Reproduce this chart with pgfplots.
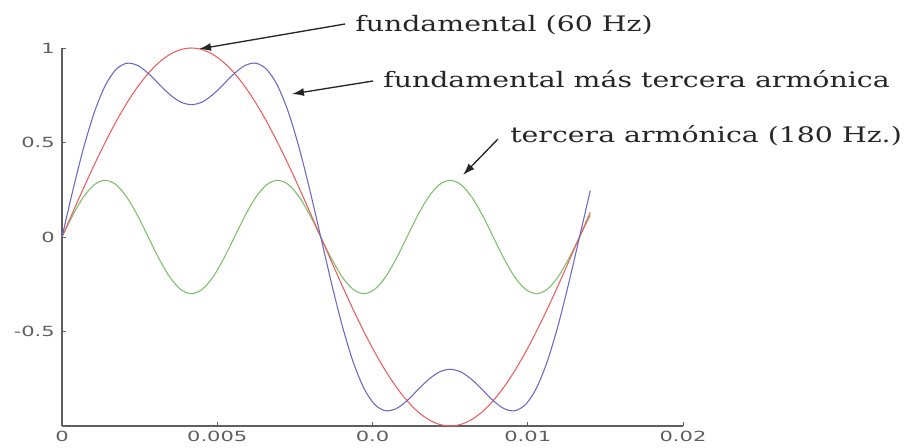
\documentclass[border=0pt]{standalone}
\usepackage{pgfplots}
\pgfplotsset{compat=1.18}
\usepackage{pgfplotstable}
\usetikzlibrary{arrows.meta}
\usepackage{fontspec}
\setmainfont{DejaVu Serif}
\newfontfamily\annfont[FakeStretch=1.33]{DejaVu Serif}
\newfontfamily\tickfont[FakeStretch=1.5]{DejaVu Sans}

\definecolor{cfund}{RGB}{235,95,95}
\definecolor{csum}{RGB}{105,105,195}
\definecolor{cthird}{RGB}{125,190,105}
\definecolor{caxis}{RGB}{95,95,95}

% t (s), fundamental, tercera armonica, suma
\pgfplotstableread{
t        f        h        s
0.000000  0.0000   0.0000   0.0000
0.000347  0.1305   0.1148   0.2453
0.000694  0.2588   0.2121   0.4709
0.001042  0.3827   0.2772   0.6599
0.001389  0.5000   0.3000   0.8000
0.001736  0.6088   0.2772   0.8860
0.002083  0.7071   0.2121   0.9192
0.002431  0.7934   0.1148   0.9082
0.002778  0.8660   0.0000   0.8660
0.003125  0.9239  -0.1148   0.8091
0.003472  0.9659  -0.2121   0.7538
0.003819  0.9914  -0.2772   0.7142
0.004167  1.0000  -0.3000   0.7000
0.004514  0.9914  -0.2772   0.7142
0.004861  0.9659  -0.2121   0.7538
0.005208  0.9239  -0.1148   0.8091
0.005556  0.8660   0.0000   0.8660
0.005903  0.7934   0.1148   0.9082
0.006250  0.7071   0.2121   0.9192
0.006597  0.6088   0.2772   0.8860
0.006944  0.5000   0.3000   0.8000
0.007292  0.3827   0.2772   0.6599
0.007639  0.2588   0.2121   0.4709
0.007986  0.1305   0.1148   0.2453
0.008333  0.0000   0.0000   0.0000
0.008681 -0.1305  -0.1148  -0.2453
0.009028 -0.2588  -0.2121  -0.4709
0.009375 -0.3827  -0.2772  -0.6599
0.009722 -0.5000  -0.3000  -0.8000
0.010069 -0.6088  -0.2772  -0.8860
0.010417 -0.7071  -0.2121  -0.9192
0.010764 -0.7934  -0.1148  -0.9082
0.011111 -0.8660   0.0000  -0.8660
0.011458 -0.9239   0.1148  -0.8091
0.011806 -0.9659   0.2121  -0.7538
0.012153 -0.9914   0.2772  -0.7142
0.012500 -1.0000   0.3000  -0.7000
0.012847 -0.9914   0.2772  -0.7142
0.013194 -0.9659   0.2121  -0.7538
0.013542 -0.9239   0.1148  -0.8091
0.013889 -0.8660   0.0000  -0.8660
0.014236 -0.7934  -0.1148  -0.9082
0.014583 -0.7071  -0.2121  -0.9192
0.014931 -0.6088  -0.2772  -0.8860
0.015278 -0.5000  -0.3000  -0.8000
0.015625 -0.3827  -0.2772  -0.6599
0.015972 -0.2588  -0.2121  -0.4709
0.016319 -0.1305  -0.1148  -0.2453
0.016667  0.0000   0.0000   0.0000
0.017014  0.1305   0.1148   0.2453
}\ondas

\begin{document}
\begin{tikzpicture}[x=0.75pt,y=0.75pt]
\useasboundingbox (0,0) rectangle (912,447);
\begin{axis}[
    at={(46.5pt,15.75pt)}, anchor=south west,
    scale only axis, width=465.75pt, height=283.5pt,
    xmin=0, xmax=0.02, ymin=-1, ymax=1,
    axis lines=left,
    axis line style={-, caxis, line width=0.9pt},
    every outer x axis line/.append style={-},
    every outer y axis line/.append style={-},
    scaled x ticks=false, scaled y ticks=false,
    xtick={0,0.005,0.01,0.015,0.02},
    xticklabels={0,0.005,0.0,0.01,0.02},
    ytick={-0.5,0,0.5,1},
    yticklabels={-0.5,0,0.5,1},
    tick align=inside,
    major tick length=3pt,
    tick style={caxis, line width=0.6pt},
    ticklabel style={font=\tickfont\fontsize{10.5}{11}\selectfont, text=caxis, inner sep=0pt},
    xticklabel style={anchor=north, yshift=-4pt, text depth=0pt},
    yticklabel style={anchor=east, xshift=-5.25pt},
    clip=false,
]
\addplot[cthird, line width=0.8pt, smooth] table[x=t, y=h] {\ondas};
\addplot[cfund, line width=0.8pt, smooth] table[x=t, y=f] {\ondas};
\addplot[csum, line width=0.8pt, smooth] table[x=t, y=s] {\ondas};
\end{axis}

% anotaciones
\begin{scope}[font=\annfont\fontsize{16}{18}\selectfont, text=black!85]
\node[anchor=base west, inner sep=0pt] at (355,415) {fundamental (60 Hz)};
\node[anchor=base west, inner sep=0pt] at (383,359) {fundamental más tercera armónica};
\node[anchor=base west, inner sep=0pt] at (510,305) {tercera armónica (180 Hz.)};
\end{scope}
\draw[-{Latex[length=9pt,width=6pt]}, line width=1pt, black!85] (345,423) -- (199,398);
\draw[-{Latex[length=9pt,width=6pt]}, line width=1pt, black!85] (373,366) -- (292,353);
\draw[-{Latex[length=9pt,width=6pt]}, line width=1pt, black!85] (498,308) -- (463,272);
\end{tikzpicture}
\end{document}
